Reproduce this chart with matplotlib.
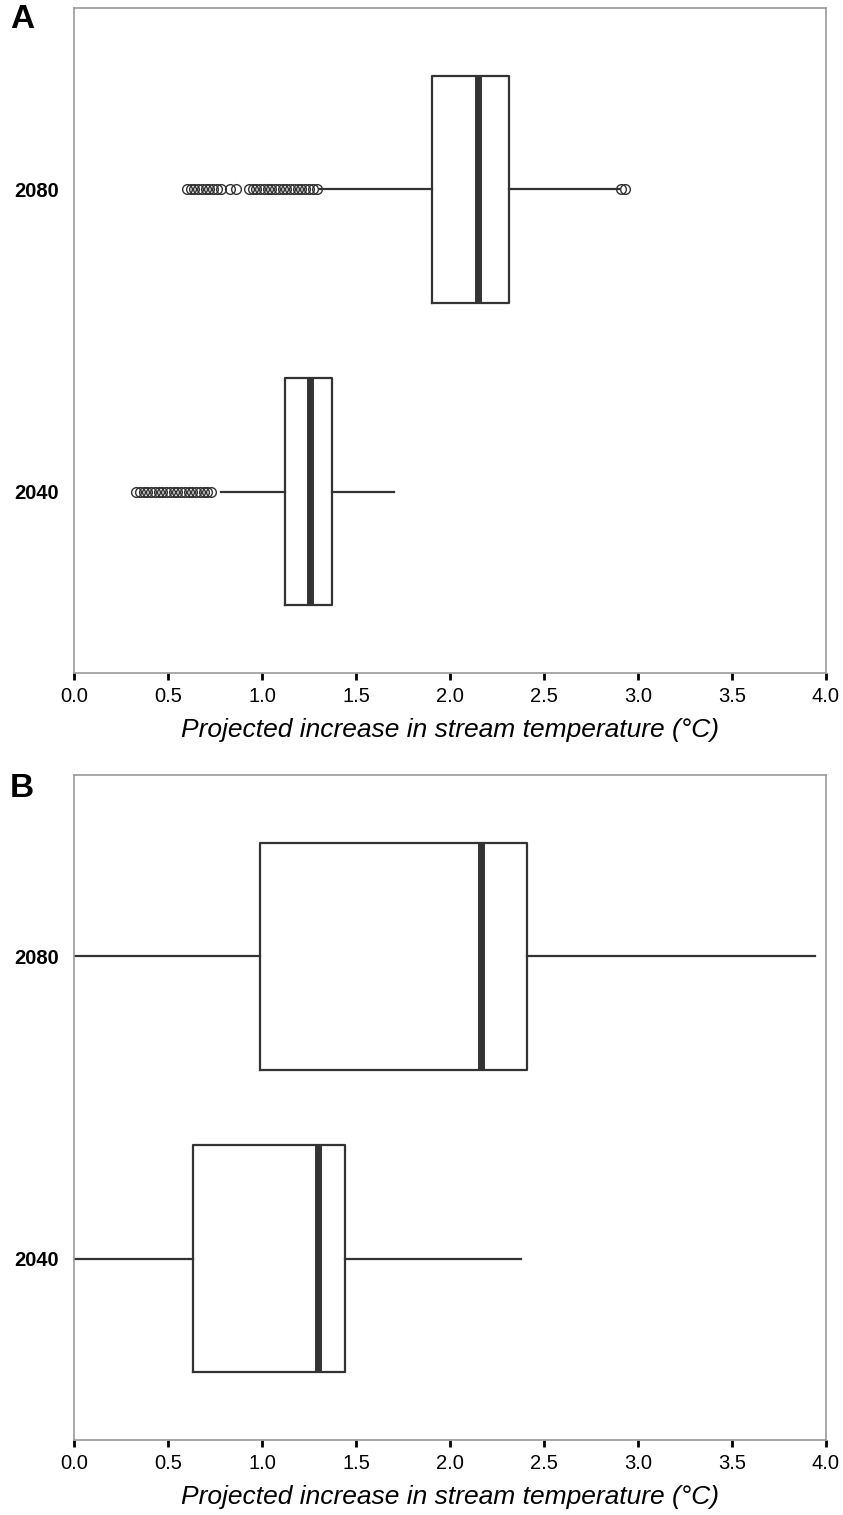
import matplotlib.pyplot as plt

plt.rcParams['font.family'] = ['Liberation Sans', 'DejaVu Sans']

# values (deg C)
years = ["2040", "2080"]

# panel A
a_whislo = [0.78, 1.31]
a_q1 = [1.12, 1.905]
a_med = [1.255, 2.15]
a_q3 = [1.372, 2.314]
a_whishi = [1.70, 2.90]
a_fliers_2040 = [0.33, 0.35, 0.37, 0.39, 0.41, 0.43, 0.45, 0.47, 0.49, 0.51,
                 0.53, 0.55, 0.57, 0.59, 0.61, 0.63, 0.65, 0.67, 0.69, 0.71, 0.73]
a_fliers_2080 = [0.60, 0.62, 0.64, 0.66, 0.68, 0.70, 0.72, 0.74, 0.76, 0.78,
                 0.83, 0.86, 0.93, 0.95, 0.97, 0.99, 1.01, 1.03, 1.05, 1.07,
                 1.09, 1.11, 1.13, 1.15, 1.17, 1.19, 1.21, 1.23, 1.25, 1.27,
                 1.29, 2.91, 2.93]

# panel B
b_whislo = [0.0, 0.0]
b_q1 = [0.633, 0.99]
b_med = [1.298, 2.165]
b_q3 = [1.441, 2.41]
b_whishi = [2.378, 3.94]

xticks = [0.0, 0.5, 1.0, 1.5, 2.0, 2.5, 3.0, 3.5, 4.0]
xlabel = "Projected increase in stream temperature (°C)"

dark = "#333333"
spine_grey = "#999999"


def make_stats(lo, q1, med, q3, hi, fliers):
    stats = []
    for i in range(len(years)):
        stats.append({"whislo": lo[i], "q1": q1[i], "med": med[i], "q3": q3[i],
                      "whishi": hi[i], "fliers": fliers[i], "label": years[i]})
    return stats


def draw_panel(ax, stats):
    ax.bxp(stats, positions=[0, 1], vert=False, widths=0.75, showcaps=False,
           boxprops=dict(color=dark, linewidth=1.6),
           whiskerprops=dict(color=dark, linewidth=1.6),
           medianprops=dict(color=dark, linewidth=5, solid_capstyle="butt"),
           flierprops=dict(marker="o", markersize=7, markerfacecolor="none",
                           markeredgecolor=dark, markeredgewidth=1.0))
    ax.set_xlim(0, 4)
    ax.set_ylim(-0.6, 1.6)
    ax.set_xticks(xticks)
    ax.set_xticklabels(["%.1f" % t for t in xticks], fontsize=14.5)
    ax.set_yticks([0, 1])
    ax.set_yticklabels(years, fontsize=14.5, fontweight="bold")
    ax.tick_params(axis="y", length=0, pad=11)
    ax.tick_params(axis="x", length=5, width=2, color="black", pad=5)
    for s in ax.spines.values():
        s.set_color(spine_grey)
        s.set_linewidth(1.2)
    ax.set_xlabel(xlabel, fontsize=19, style="italic", labelpad=9)


fig = plt.figure(figsize=(8.43, 15.15), dpi=100)
ax_a = fig.add_axes([0.0878, 0.5558, 0.892, 0.4389])
ax_b = fig.add_axes([0.0878, 0.0495, 0.892, 0.4389])

draw_panel(ax_a, make_stats(a_whislo, a_q1, a_med, a_q3, a_whishi,
                            [a_fliers_2040, a_fliers_2080]))
draw_panel(ax_b, make_stats(b_whislo, b_q1, b_med, b_q3, b_whishi,
                            [[], []]))

fig.text(10 / 843, 1 - 20 / 1515, "A", fontsize=24, fontweight="bold",
         ha="left", va="center")
fig.text(10 / 843, 1 - 788 / 1515, "B", fontsize=24, fontweight="bold",
         ha="left", va="center")

fig.savefig("out.png", dpi=100)
